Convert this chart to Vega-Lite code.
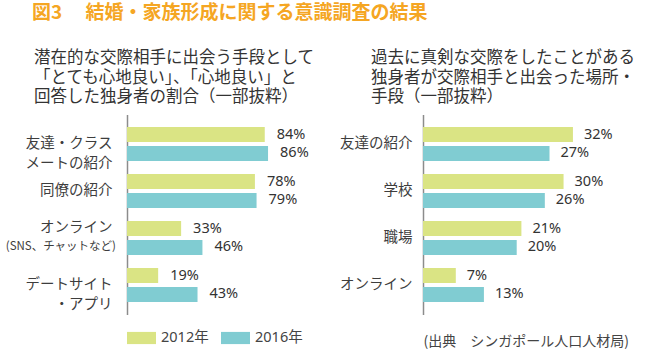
{
  "$schema": "https://vega.github.io/schema/vega-lite/v6.json",
  "background": "white",
  "padding": {"left": 5, "top": 3.5, "right": 5, "bottom": 5},
  "autosize": {"type": "pad"},
  "title": {
    "text": "図3　 結婚・家族形成に関する意識調査の結果",
    "anchor": "start",
    "frame": "group",
    "dx": -95,
    "font": "Noto Sans CJK JP",
    "fontSize": 19,
    "fontWeight": "bold",
    "color": "#F5A623",
    "offset": 27
  },
  "datasets": {
    "left": [
      {"category": "友達・クラス|メートの紹介", "year": "2012年", "value": 0.84},
      {"category": "友達・クラス|メートの紹介", "year": "2016年", "value": 0.86},
      {"category": "同僚の紹介", "year": "2012年", "value": 0.78},
      {"category": "同僚の紹介", "year": "2016年", "value": 0.79},
      {"category": "オンライン", "year": "2012年", "value": 0.33, "sub": "(SNS、チャットなど)"},
      {"category": "オンライン", "year": "2016年", "value": 0.46},
      {"category": "デートサイト|・アプリ", "year": "2012年", "value": 0.19},
      {"category": "デートサイト|・アプリ", "year": "2016年", "value": 0.43}
    ],
    "right": [
      {"category": "友達の紹介", "year": "2012年", "value": 0.32},
      {"category": "友達の紹介", "year": "2016年", "value": 0.27},
      {"category": "学校", "year": "2012年", "value": 0.30},
      {"category": "学校", "year": "2016年", "value": 0.26},
      {"category": "職場", "year": "2012年", "value": 0.21},
      {"category": "職場", "year": "2016年", "value": 0.20},
      {"category": "オンライン", "year": "2012年", "value": 0.07},
      {"category": "オンライン", "year": "2016年", "value": 0.13}
    ]
  },
  "spacing": 132,
  "bounds": "flush",
  "resolve": {"scale": {"color": "shared"}, "legend": {"color": "shared"}},
  "hconcat": [
    {
      "width": 164,
      "height": 200,
      "data": {"name": "left"},
      "title": {
        "text": ["潜在的な交際相手に出会う手段として", "「とても心地良い」、「心地良い」と", "回答した独身者の割合（一部抜粋）"],
        "anchor": "start",
        "frame": "group",
        "dx": -93,
        "offset": 9,
        "font": "Noto Sans CJK JP",
        "fontSize": 16.5,
        "fontWeight": "normal",
        "lineHeight": 19.5,
        "color": "#333333"
      },
      "layer": [
        {
          "mark": {"type": "bar"},
          "encoding": {
            "y": {
              "field": "category", "type": "nominal", "sort": null,
              "scale": {"paddingInner": 0.2766, "paddingOuter": 0.266},
              "axis": {
                "title": null, "labelExpr": "split(datum.label, '|')",
                "labelFont": "Noto Sans CJK JP", "labelFontSize": 14.5, "labelLineHeight": 20,
                "labelColor": "#3d3d3d", "labelPadding": 15, "labelLimit": 0, "ticks": false,
                "labelOffset": {"condition": {"test": "datum.value === 'オンライン'", "value": -9.5}, "value": 0},
                "domainColor": "#8c8c8c", "domainWidth": 1.5
              }
            },
            "yOffset": {"field": "year", "type": "nominal", "scale": {"paddingInner": 0.21, "paddingOuter": 0}},
            "x": {"field": "value", "type": "quantitative", "scale": {"domain": [0, 1]}, "axis": null},
            "color": {
              "field": "year", "type": "nominal",
              "scale": {"domain": ["2012年", "2016年"], "range": ["#DAE484", "#80CCD2"]},
              "legend": {
                "orient": "none", "legendX": 0, "legendY": 209, "direction": "horizontal", "title": null,
                "symbolType": "M-1,-0.42H1V0.42H-1Z", "symbolSize": 841, "symbolStrokeWidth": 0,
                "labelFont": "Noto Sans, Noto Sans CJK JP", "labelFontSize": 14.5, "labelColor": "#444444",
                "labelOffset": 5, "columnPadding": 12
              }
            }
          }
        },
        {
          "mark": {"type": "text", "align": "left", "baseline": "middle", "dx": 12, "font": "Noto Sans", "fontSize": 14.5, "color": "#333333"},
          "encoding": {
            "y": {"field": "category", "type": "nominal", "sort": null},
            "yOffset": {"field": "year", "type": "nominal"},
            "x": {"field": "value", "type": "quantitative"},
            "text": {"field": "value", "type": "quantitative", "format": ".0%"}
          }
        },
        {
          "transform": [{"filter": "isValid(datum.sub)"}],
          "mark": {"type": "text", "align": "right", "baseline": "middle", "dx": -11, "dy": 9.5, "font": "Noto Sans CJK JP", "fontSize": 11.5, "color": "#3d3d3d"},
          "encoding": {
            "y": {"field": "category", "type": "nominal", "sort": null},
            "x": {"datum": 0, "type": "quantitative"},
            "text": {"field": "sub", "type": "nominal"}
          }
        }
      ]
    },
    {
      "width": 164,
      "height": 200,
      "data": {"name": "right"},
      "title": {
        "text": ["過去に真剣な交際をしたことがある", "独身者が交際相手と出会った場所・", "手段（一部抜粋）"],
        "anchor": "start",
        "frame": "group",
        "dx": -52,
        "offset": 9,
        "font": "Noto Sans CJK JP",
        "fontSize": 16.5,
        "fontWeight": "normal",
        "lineHeight": 19.5,
        "color": "#333333"
      },
      "layer": [
        {
          "mark": {"type": "bar"},
          "encoding": {
            "y": {
              "field": "category", "type": "nominal", "sort": null,
              "scale": {"paddingInner": 0.2766, "paddingOuter": 0.266},
              "axis": {
                "title": null,
                "labelFont": "Noto Sans CJK JP", "labelFontSize": 14.5,
                "labelColor": "#3d3d3d", "labelPadding": 11, "labelLimit": 0, "ticks": false,
                "domainColor": "#8c8c8c", "domainWidth": 1.5
              }
            },
            "yOffset": {"field": "year", "type": "nominal", "scale": {"paddingInner": 0.21, "paddingOuter": 0}},
            "x": {
              "field": "value", "type": "quantitative", "scale": {"domain": [0, 0.35]},
              "axis": {
                "orient": "bottom", "domain": false, "ticks": false, "labels": false, "grid": false,
                "title": "(出典　シンガポール人口人材局)", "titleAnchor": "start", "titleAlign": "left",
                "titlePadding": 20, "titleFont": "Noto Sans CJK JP", "titleFontSize": 14, "titleFontWeight": "normal",
                "titleColor": "#444444"
              }
            },
            "color": {"field": "year", "type": "nominal"}
          }
        },
        {
          "mark": {"type": "text", "align": "left", "baseline": "middle", "dx": 11, "font": "Noto Sans", "fontSize": 14.5, "color": "#333333"},
          "encoding": {
            "y": {"field": "category", "type": "nominal", "sort": null},
            "yOffset": {"field": "year", "type": "nominal"},
            "x": {"field": "value", "type": "quantitative"},
            "text": {"field": "value", "type": "quantitative", "format": ".0%"}
          }
        }
      ]
    }
  ],
  "config": {
    "view": {"stroke": null},
    "axis": {"grid": false}
  }
}
